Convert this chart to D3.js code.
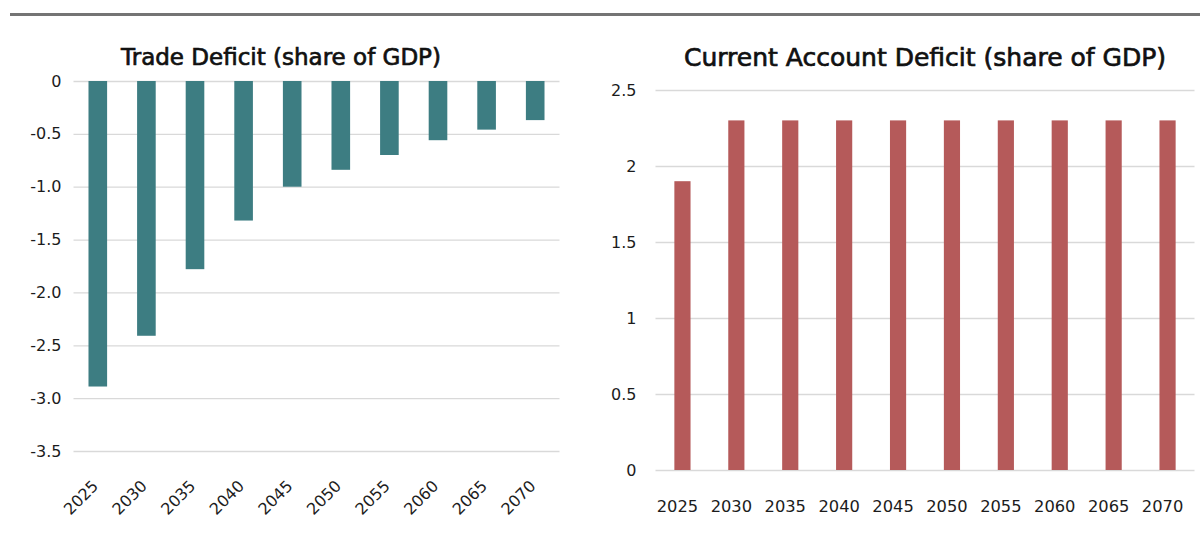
<!DOCTYPE html>
<html><head><meta charset="utf-8">
<script src="https://cdn.jsdelivr.net/npm/d3@7"></script>
<style>
body{margin:0;background:#fff}
svg{display:block}
text{font-family:"DejaVu Sans",sans-serif}
</style>
</head><body>
<svg id="c" width="1200" height="533"></svg>
<script>
const years = ["2025","2030","2035","2040","2045","2050","2055","2060","2065","2070"];
const tradeDeficit = [-2.89,-2.41,-1.78,-1.32,-1.00,-0.84,-0.70,-0.56,-0.46,-0.37];
const currentAccountDeficit = [1.9,2.3,2.3,2.3,2.3,2.3,2.3,2.3,2.3,2.3];
const tradeTicks = [0,-0.5,-1.0,-1.5,-2.0,-2.5,-3.0,-3.5];
const caTicks = [0,0.5,1,1.5,2,2.5];
const tradeTitle = "Trade Deficit (share of GDP)";
const caTitle = "Current Account Deficit (share of GDP)";

const svg = d3.select("#c");
svg.append("rect").attr("width",1200).attr("height",533).attr("fill","#fff");
svg.append("line").attr("x1",10).attr("x2",1200).attr("y1",14.5).attr("y2",14.5)
  .attr("stroke","#747474").attr("stroke-width",3);

const gridColor = "#d9d9d9", textColor = "#1c1c1c";

// ---- Left chart: trade deficit
{
  const x = d3.scaleBand().domain(years).range([73.5,559.5]).paddingInner(0.617).paddingOuter(0.3085);
  const y = d3.scaleLinear().domain([-3.5,0]).range([451,81]);
  const g = svg.append("g");
  const yAxis = d3.axisLeft(y).tickValues(tradeTicks).tickSize(-(559.5-73.5)).tickPadding(12)
    .tickFormat(d => d === 0 ? "0" : d.toFixed(1));
  const ga = g.append("g").attr("transform","translate(73.5,0)").call(yAxis);
  ga.select(".domain").remove();
  ga.selectAll(".tick line").attr("stroke",gridColor).attr("stroke-width",1.3);
  ga.selectAll(".tick text").attr("fill",textColor).style("font-size","16px").style("font-family","DejaVu Sans");
  g.selectAll("rect.bar").data(years).join("rect").attr("class","bar")
    .attr("x",d=>x(d)).attr("width",x.bandwidth())
    .attr("y",(d,i)=>y(0)).attr("height",(d,i)=>y(tradeDeficit[i])-y(0))
    .attr("fill","#3d7d82");
  g.selectAll("text.xl").data(years).join("text").attr("class","xl")
    .attr("transform",d=>`translate(${x(d)+x.bandwidth()/2+1.5},487) rotate(-45)`)
    .attr("text-anchor","end").attr("fill",textColor).style("font-size","16px").text(d=>d);
  g.append("text").attr("x",281).attr("y",65).attr("text-anchor","middle")
    .attr("fill","#111").attr("stroke","#111").attr("stroke-width",0.7)
    .style("font-size","23px").text(tradeTitle);
}

// ---- Right chart: current account deficit
{
  const x = d3.scaleBand().domain(years).range([655.5,1194.5]).paddingInner(0.70).paddingOuter(0.35);
  const y = d3.scaleLinear().domain([0,2.5]).range([470,90]);
  const g = svg.append("g");
  const yAxis = d3.axisLeft(y).tickValues(caTicks).tickSize(-(1194.5-655.5)).tickPadding(19)
    .tickFormat(d => String(d));
  const ga = g.append("g").attr("transform","translate(655.5,0)").call(yAxis);
  ga.select(".domain").remove();
  ga.selectAll(".tick line").attr("stroke",gridColor).attr("stroke-width",1.3);
  ga.selectAll(".tick text").attr("fill",textColor).style("font-size","16px").style("font-family","DejaVu Sans");
  g.selectAll("rect.bar").data(years).join("rect").attr("class","bar")
    .attr("x",d=>x(d)).attr("width",x.bandwidth())
    .attr("y",(d,i)=>y(currentAccountDeficit[i])).attr("height",(d,i)=>y(0)-y(currentAccountDeficit[i]))
    .attr("fill","#b55a5a");
  g.selectAll("text.xl").data(years).join("text").attr("class","xl")
    .attr("x",d=>x(d)+x.bandwidth()/2-5).attr("y",512)
    .attr("text-anchor","middle").attr("fill",textColor).style("font-size","16.3px").text(d=>d);
  g.append("text").attr("x",925).attr("y",66).attr("text-anchor","middle")
    .attr("fill","#111").attr("stroke","#111").attr("stroke-width",0.7)
    .style("font-size","25px").text(caTitle);
}
</script>
</body></html>
